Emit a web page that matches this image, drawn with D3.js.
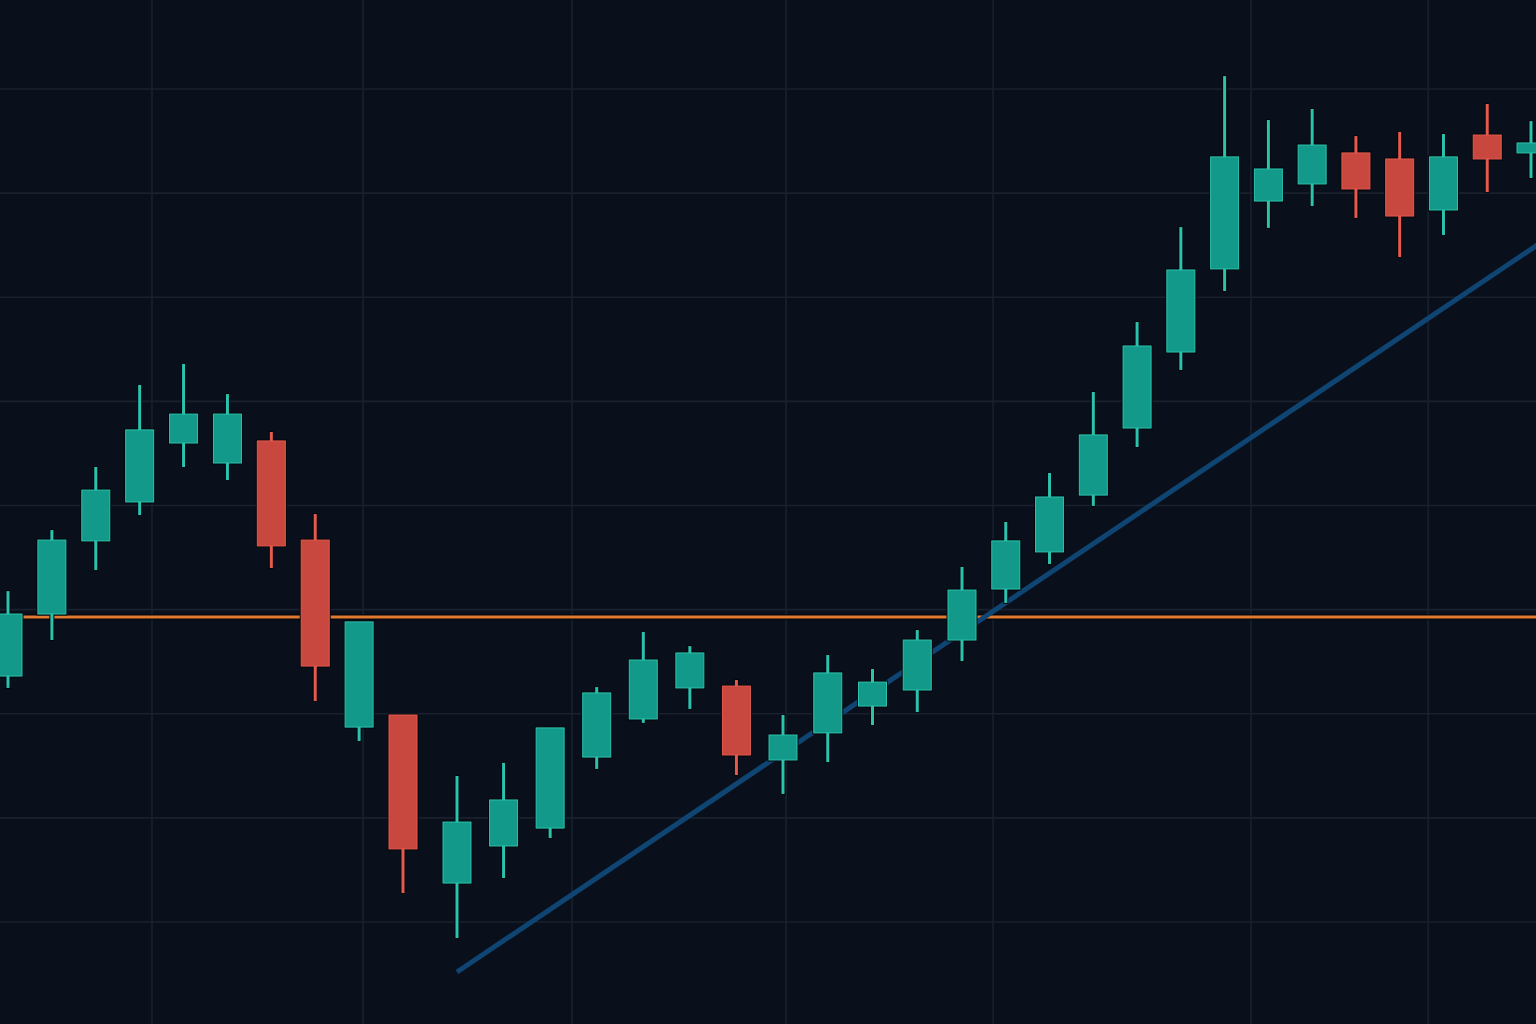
<!DOCTYPE html>
<html lang="en">
<head>
  <meta charset="UTF-8">
  <title>Candlestick Chart</title>
  <script src="https://d3js.org/d3.v7.min.js"></script>
  <style>
    body {
      margin: 0;
      background: #0a101b;
      overflow: hidden;
    }
    svg {
      display: block;
    }
  </style>
</head>
<body>
  <svg id="chart"></svg>

  <script>
    // candle data, one entry per bar (index is the bar position)
    const opens  = [111.81, 114.79, 118.30, 120.17, 123.00, 122.04, 123.10, 118.34, 109.36, 109.94,
                    101.87, 103.65, 104.51, 107.92, 109.75, 111.24, 111.33, 107.78, 109.08, 110.37,
                    111.14, 113.54, 115.99, 117.77, 120.50, 123.72, 127.37, 131.36, 134.62, 135.44,
                    136.93, 136.64, 134.19, 137.79, 136.93];
    const highs  = [115.89, 118.82, 121.85, 125.79, 126.80, 125.35, 123.53, 119.59, 114.41, 109.94,
                    107.01, 107.64, 109.32, 111.28, 113.93, 113.25, 111.62, 109.94, 112.82, 112.15,
                    114.02, 117.05, 119.21, 121.56, 125.45, 128.81, 133.37, 140.62, 138.51, 139.04,
                    137.74, 137.94, 137.84, 139.28, 138.46];
    const lows   = [111.24, 113.54, 116.90, 119.54, 121.85, 121.22, 117.00, 110.61, 108.69, 101.39,
                     99.23, 102.11, 104.03, 107.35, 109.56, 110.23, 107.06, 106.15, 107.68, 109.46,
                    110.08, 112.53, 115.32, 117.19, 119.98, 122.81, 126.51, 130.30, 133.33, 134.38,
                    133.81, 131.93, 132.99, 135.05, 135.73];
    const closes = [114.79, 118.34, 120.74, 123.63, 124.39, 124.39, 118.06, 112.29, 114.41, 103.51,
                    104.80, 105.86, 109.32, 111.00, 112.58, 112.92, 108.02, 108.98, 111.96, 111.52,
                    113.54, 115.94, 118.30, 120.41, 123.39, 127.66, 131.31, 136.74, 136.16, 137.31,
                    135.20, 133.90, 136.74, 136.64, 137.41];

    // horizontal support level and rising trendline (bar index, price)
    const supportLevel = 114.65;
    const trendStart = [10, 97.6];
    const trendEnd = [35, 133.72];

    // grid positions
    const priceTicks = [100, 105, 110, 115, 120, 125, 130, 135, 140];
    const timeTicks = [3.28, 8.09, 12.47, 17.07, 21.71, 27.60, 31.65];

    const candles = opens.map((o, i) => ({
      i: i, open: o, high: highs[i], low: lows[i], close: closes[i]
    }));

    const width = 1536;
    const height = 1024;
    const bodyW = 28;

    const svg = d3.select("#chart")
      .attr("width", width)
      .attr("height", height);

    svg.append("rect")
      .attr("width", width)
      .attr("height", height)
      .attr("fill", "#0a101b");

    // bar spacing isn't perfectly even (small session gaps), so piecewise scale
    const x = d3.scaleLinear()
      .domain([0, 9, 10, 17, 21, 34])
      .range([8, 403, 457, 783, 962, 1531]);
    const y = d3.scaleLinear().domain([100, 140]).range([922, 89]);

    // grid
    const grid = svg.append("g")
      .attr("stroke", "#19212e")
      .attr("stroke-width", 1.6);

    grid.selectAll("line.h")
      .data(priceTicks)
      .join("line")
      .attr("class", "h")
      .attr("x1", 0).attr("x2", width)
      .attr("y1", d => y(d)).attr("y2", d => y(d));

    grid.selectAll("line.v")
      .data(timeTicks)
      .join("line")
      .attr("class", "v")
      .attr("y1", 0).attr("y2", height)
      .attr("x1", d => x(d)).attr("x2", d => x(d));

    // support line
    svg.append("line")
      .attr("x1", 0).attr("x2", width)
      .attr("y1", y(supportLevel)).attr("y2", y(supportLevel))
      .attr("stroke", "#04070c")
      .attr("stroke-width", 5.5);
    svg.append("line")
      .attr("x1", 0).attr("x2", width)
      .attr("y1", y(supportLevel)).attr("y2", y(supportLevel))
      .attr("stroke", "#e07a30")
      .attr("stroke-width", 3);

    // trendline
    svg.append("line")
      .attr("x1", x(trendStart[0])).attr("y1", y(trendStart[1]))
      .attr("x2", x(trendEnd[0])).attr("y2", y(trendEnd[1]))
      .attr("stroke", "#0f4573")
      .attr("stroke-width", 5);

    // candles
    const up = { fill: "#12998a", edge: "#2cc2ae" };
    const down = { fill: "#c8473e", edge: "#e45a4d" };
    const col = d => d.close >= d.open ? up : down;

    const g = svg.append("g")
      .selectAll("g")
      .data(candles)
      .join("g");

    // dark halo behind each candle
    g.append("line")
      .attr("x1", d => x(d.i)).attr("x2", d => x(d.i))
      .attr("y1", d => y(d.high) - 1).attr("y2", d => y(d.low) + 1)
      .attr("stroke", "#04070c")
      .attr("stroke-width", 5);
    g.append("rect")
      .attr("x", d => x(d.i) - bodyW / 2 - 1.5)
      .attr("y", d => y(Math.max(d.open, d.close)) - 1.5)
      .attr("width", bodyW + 3)
      .attr("height", d => Math.max(1, Math.abs(y(d.open) - y(d.close))) + 3)
      .attr("fill", "#04070c");

    g.append("line")
      .attr("x1", d => x(d.i)).attr("x2", d => x(d.i))
      .attr("y1", d => y(d.high)).attr("y2", d => y(d.low))
      .attr("stroke", d => col(d).edge)
      .attr("stroke-width", 3);

    g.append("rect")
      .attr("x", d => x(d.i) - bodyW / 2)
      .attr("y", d => y(Math.max(d.open, d.close)))
      .attr("width", bodyW)
      .attr("height", d => Math.max(1, Math.abs(y(d.open) - y(d.close))))
      .attr("fill", d => col(d).fill)
      .attr("stroke", d => col(d).edge)
      .attr("stroke-width", 1);
  </script>
</body>
</html>
